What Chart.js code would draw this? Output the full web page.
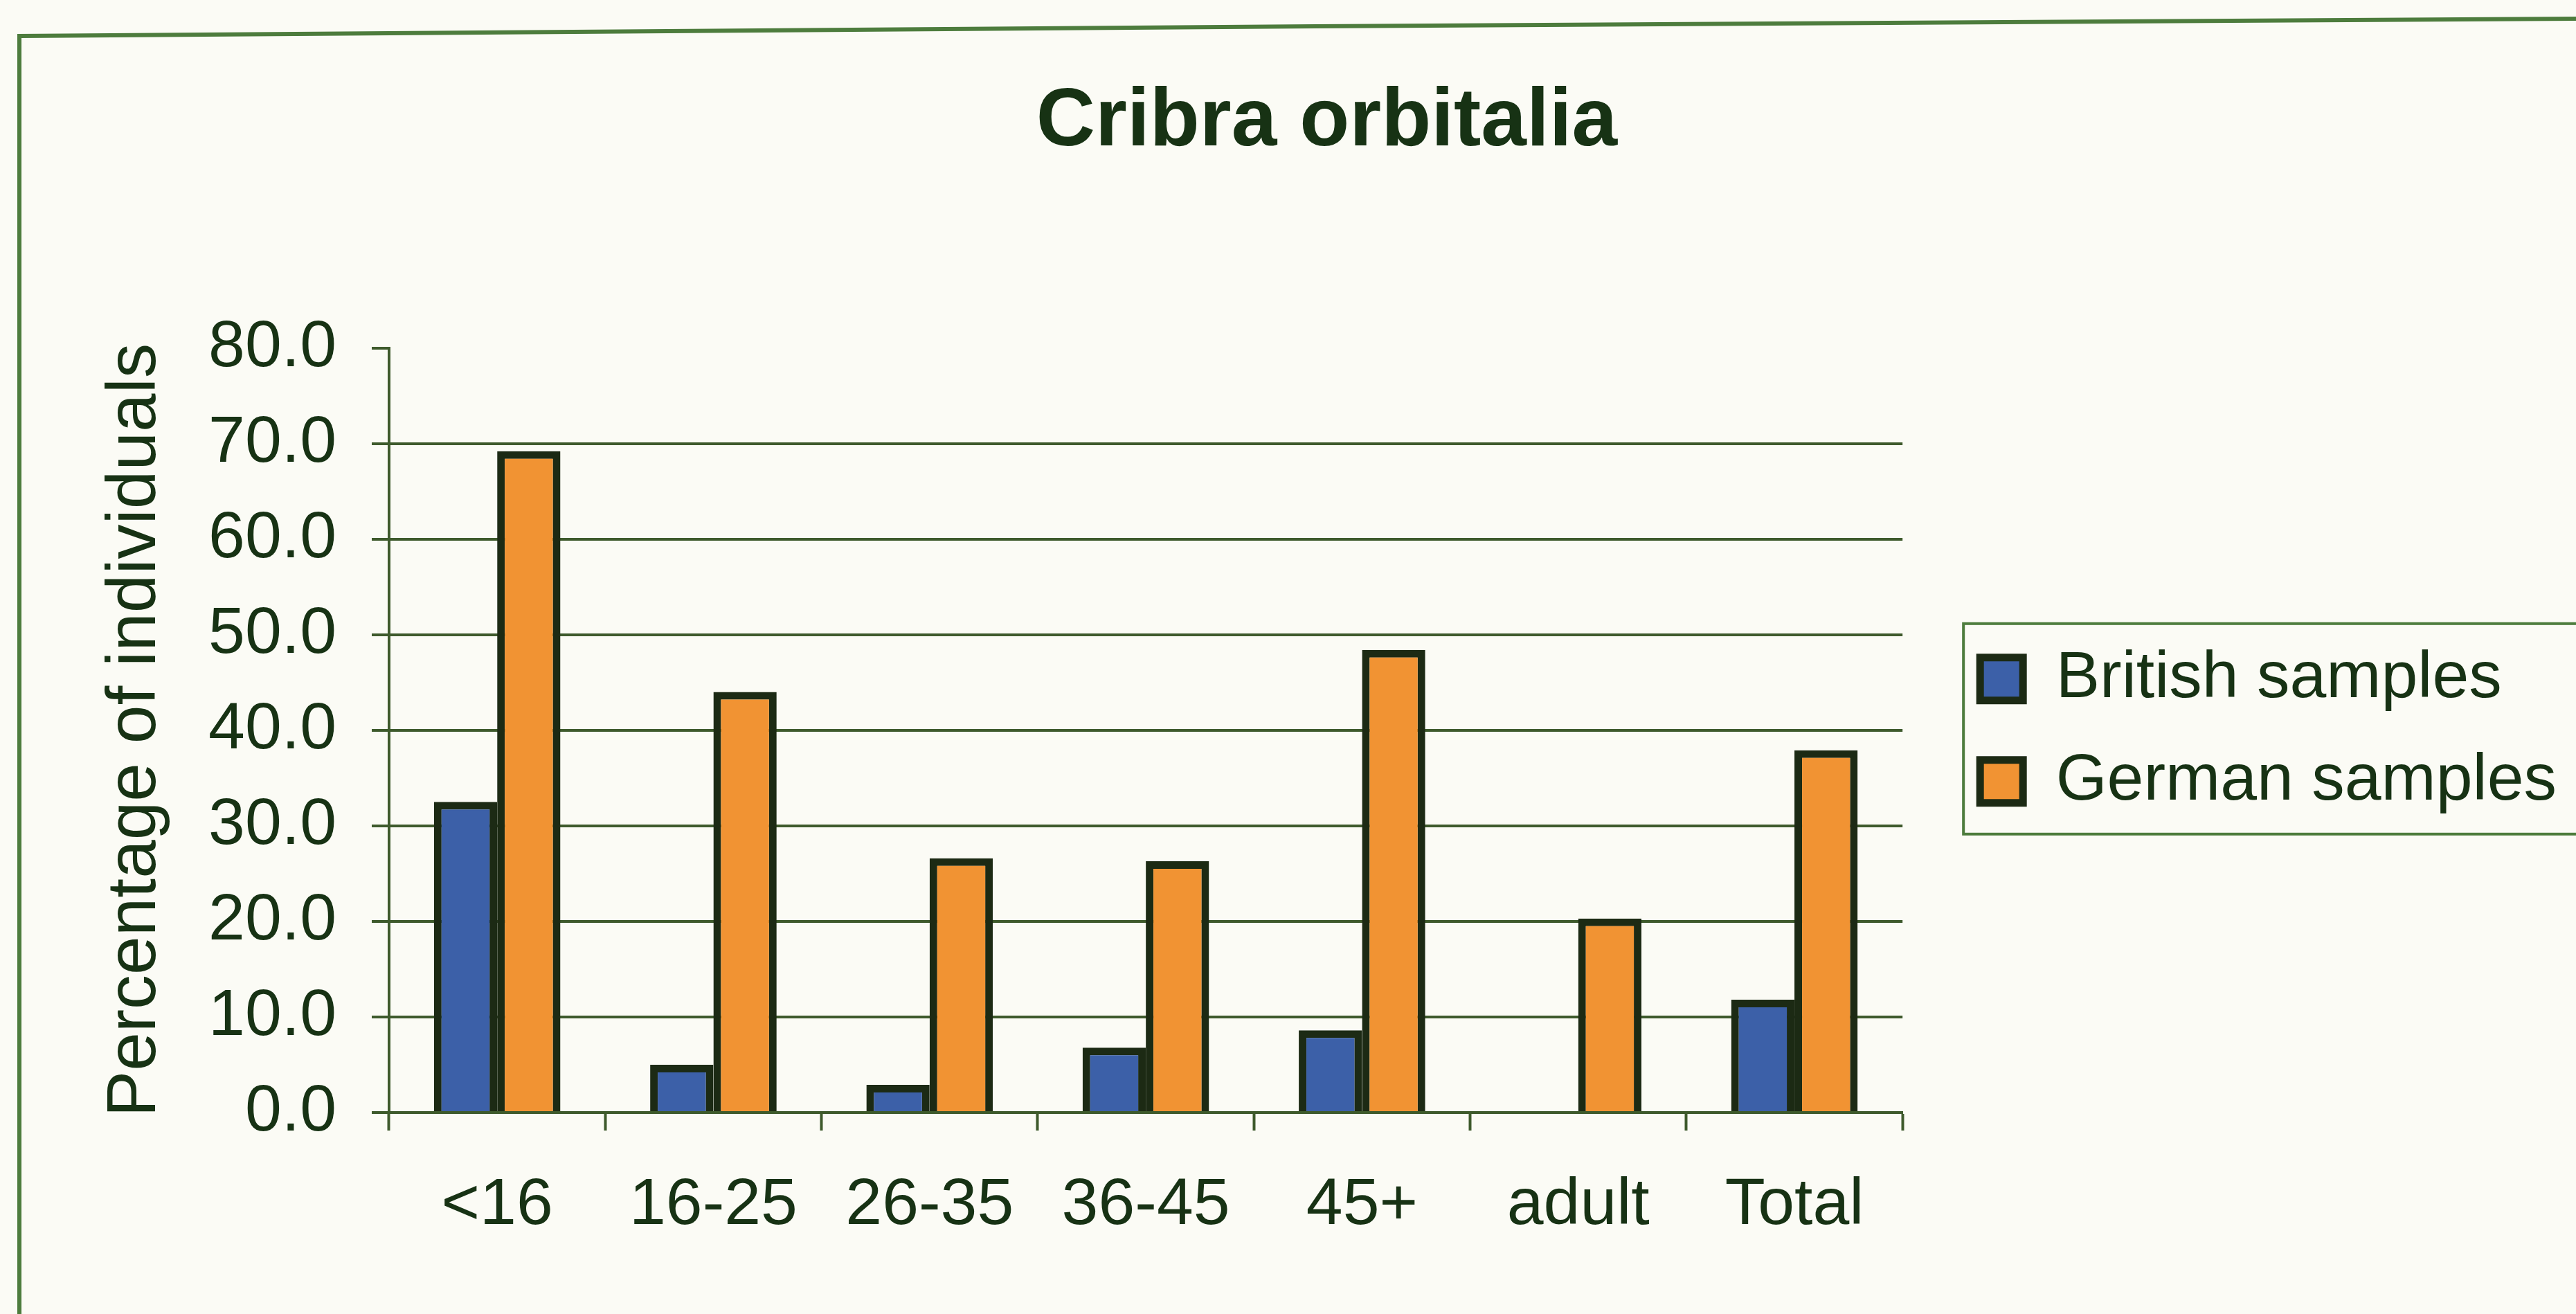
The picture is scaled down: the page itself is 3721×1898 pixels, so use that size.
<!DOCTYPE html>
<html>
<head>
<meta charset="utf-8">
<title>Cribra orbitalia</title>
<script src="https://cdn.jsdelivr.net/npm/chart.js@4.4.1/dist/chart.umd.min.js"></script>
<style>
  html, body { margin: 0; padding: 0; background: #fbfbf5; }
  canvas { display: block; }
</style>
</head>
<body>
<canvas id="chart" width="3721" height="1898"></canvas>
<script>
// Age groups and percentage of individuals with cribra orbitalia
const ageGroups = ['<16', '16-25', '26-35', '36-45', '45+', 'adult', 'Total'];
const britishValues = [32.5, 5.0, 2.9, 6.8, 8.6, 0, 11.8];
const germanValues = [69.2, 44.0, 26.6, 26.3, 48.4, 20.3, 37.9];
const seriesNames = ['British samples', 'German samples'];
const yMin = 0, yMax = 80, yStep = 10;

const FONT = '"Liberation Sans", Arial, Helvetica, sans-serif';
const TEXT = '#173214';
const GRID = '#3e5a2c';
const FRAME = '#4d7c3d';
const EDGE = '#1c2a14';

// paper background and the outer frame
const paperPlugin = {
    id: 'paper',
    beforeDraw(chart) {
        const ctx = chart.ctx;
        ctx.save();
        ctx.fillStyle = '#fbfbf5';
        ctx.fillRect(0, 0, chart.width, chart.height);
        ctx.strokeStyle = FRAME;
        ctx.lineWidth = 6;
        ctx.beginPath();
        ctx.moveTo(28, chart.height + 10);
        ctx.lineTo(28, 52);
        ctx.lineTo(1900, 38);
        ctx.lineTo(chart.width + 10, 27);
        ctx.stroke();
        ctx.restore();
    }
};

// box round the legend, running off the right edge
const legendFramePlugin = {
    id: 'legendFrame',
    afterDraw(chart) {
        const boxes = chart.legend && chart.legend.legendHitBoxes;
        if (!boxes || !boxes.length) return;
        const first = boxes[0];
        const last = boxes[boxes.length - 1];
        const top = first.top + first.height / 2 - 80;
        const bottom = last.top + last.height / 2 + 76;
        const left = first.left - 24;
        const ctx = chart.ctx;
        ctx.save();
        ctx.strokeStyle = FRAME;
        ctx.lineWidth = 4;
        ctx.strokeRect(left, top, chart.width + 20 - left, bottom - top);
        ctx.restore();
    }
};

const chart = new Chart(document.getElementById('chart'), {
    type: 'bar',
    data: {
        labels: ageGroups,
        datasets: [{
            label: seriesNames[0],
            data: britishValues,
            backgroundColor: '#3c60a8',
            borderColor: EDGE,
            borderWidth: 11
        }, {
            label: seriesNames[1],
            data: germanValues,
            backgroundColor: '#f19333',
            borderColor: EDGE,
            borderWidth: 11
        }]
    },
    options: {
        responsive: false,
        animation: false,
        devicePixelRatio: 1,
        layout: { padding: { left: 130, right: 18, top: 0, bottom: 0 } },
        datasets: {
            bar: { categoryPercentage: 0.585, barPercentage: 1.0 }
        },
        plugins: {
            title: {
                display: true,
                text: 'Cribra orbitalia',
                color: TEXT,
                font: { family: FONT, size: 118, weight: 'bold' },
                padding: { top: 107, bottom: 254 }
            },
            legend: {
                display: true,
                position: 'right',
                fullSize: false,
                maxWidth: 1000,
                labels: {
                    color: TEXT,
                    font: { family: FONT, size: 95 },
                    boxWidth: 62,
                    boxHeight: 62,
                    padding: 53
                }
            },
            tooltip: { enabled: false }
        },
        scales: {
            x: {
                grid: {
                    display: true,
                    offset: true,
                    drawOnChartArea: false,
                    drawTicks: true,
                    tickLength: 26,
                    tickColor: GRID,
                    tickWidth: 4
                },
                border: { display: true, color: GRID, width: 4 },
                ticks: {
                    color: TEXT,
                    font: { family: FONT, size: 95 },
                    padding: 52,
                    maxRotation: 0
                },
                afterFit(scale) { scale.height = 291; }
            },
            y: {
                min: yMin,
                max: yMax,
                ticks: {
                    stepSize: yStep,
                    color: TEXT,
                    font: { family: FONT, size: 95 },
                    padding: 51,
                    callback: v => v.toFixed(1)
                },
                grid: {
                    color: c => (c.tick && c.tick.value === yMax) ? 'rgba(0,0,0,0)' : GRID,
                    lineWidth: 4,
                    tickLength: 25,
                    tickColor: GRID,
                    tickWidth: 4
                },
                border: { display: true, color: GRID, width: 4 },
                title: {
                    display: true,
                    text: 'Percentage of individuals',
                    color: TEXT,
                    font: { family: FONT, size: 100 },
                    padding: { top: 6, bottom: 40 }
                },
                afterFit(scale) { scale.width = 432; }
            },
            // spacer between the plot and the legend
            gap: {
                type: 'linear',
                position: 'right',
                display: true,
                grid: { display: false },
                ticks: { display: false },
                border: { display: false },
                afterFit(scale) { scale.width = 59; }
            }
        }
    },
    plugins: [paperPlugin, legendFramePlugin]
});
</script>
</body>
</html>
